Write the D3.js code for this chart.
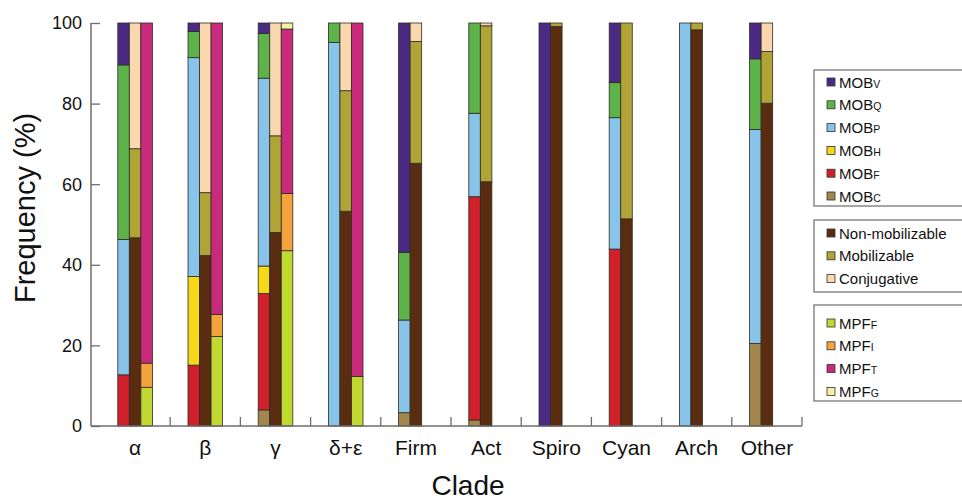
<!DOCTYPE html>
<html>
<head>
<meta charset="utf-8">
<script src="https://cdn.jsdelivr.net/npm/d3@7/dist/d3.min.js"></script>
<style>
  html, body { margin: 0; padding: 0; background: #fff; }
  svg { display: block; font-family: "Liberation Sans", Arial, sans-serif; }
</style>
</head>
<body>
<svg id="chart" width="962" height="502"></svg>
<script>
// Clades on the x axis
const clades = ["α", "β", "γ", "δ+ε", "Firm", "Act", "Spiro", "Cyan", "Arch", "Other"];

// MOB relaxase classes (% of plasmids), stacked bottom to top
const mobC = [0, 0, 4.0, 0, 3.3, 1.5, 0, 0, 0, 20.5];
const mobF = [12.7, 15.1, 28.9, 0, 0, 55.4, 0, 43.9, 0, 0];
const mobH = [0, 22.0, 6.8, 0, 0, 0, 0, 0, 0, 0];
const mobP = [33.6, 54.3, 46.6, 95.2, 23.0, 20.7, 0, 32.6, 100, 53.1];
const mobQ = [43.3, 6.5, 11.1, 4.8, 16.8, 22.4, 0, 8.7, 0, 17.5];
const mobV = [10.4, 2.1, 2.6, 0, 56.9, 0, 100, 14.8, 0, 8.9];

// Mobility classes (%)
const nonMobilizable = [46.7, 42.3, 48.0, 53.3, 65.2, 60.6, 99.1, 51.4, 98.3, 80.1];
const mobilizable = [22.1, 15.6, 24.0, 29.9, 30.2, 38.7, 0.9, 48.6, 1.7, 12.8];
const conjugative = [31.2, 42.1, 28.0, 16.8, 4.6, 0.7, 0, 0, 0, 7.1];

// MPF classes (%), only for the proteobacterial clades
const mpfClades = ["α", "β", "γ", "δ+ε"];
const mpfF = [9.6, 22.2, 43.5, 12.3];
const mpfI = [6.0, 5.5, 14.2, 0];
const mpfT = [84.4, 72.3, 40.8, 87.7];
const mpfG = [0, 0, 1.5, 0];

const yTicks = [0, 20, 40, 60, 80, 100];

// Series definitions: key, legend label (base + small suffix), colour, values
const mobSeries = [
  { key: "MOBC", base: "MOB", sub: "C", color: "#a2864b", values: mobC },
  { key: "MOBF", base: "MOB", sub: "F", color: "#d2202b", values: mobF },
  { key: "MOBH", base: "MOB", sub: "H", color: "#f6d816", values: mobH },
  { key: "MOBP", base: "MOB", sub: "P", color: "#88c4ea", values: mobP },
  { key: "MOBQ", base: "MOB", sub: "Q", color: "#5db34a", values: mobQ },
  { key: "MOBV", base: "MOB", sub: "V", color: "#4b2a84", values: mobV }
];
const mobilitySeries = [
  { key: "non", base: "Non-mobilizable", sub: "", color: "#5a2d10", values: nonMobilizable },
  { key: "mob", base: "Mobilizable", sub: "", color: "#b1a437", values: mobilizable },
  { key: "conj", base: "Conjugative", sub: "", color: "#fbd7ad", values: conjugative }
];
const mpfSeries = [
  { key: "MPFF", base: "MPF", sub: "F", color: "#c0d830", values: mpfF },
  { key: "MPFI", base: "MPF", sub: "I", color: "#f4a23b", values: mpfI },
  { key: "MPFT", base: "MPF", sub: "T", color: "#c92a7b", values: mpfT },
  { key: "MPFG", base: "MPF", sub: "G", color: "#f4f0a4", values: mpfG }
];

const svg = d3.select("#chart");
const plot = { left: 91, right: 802, top: 23, bottom: 426 };

const x = d3.scaleBand().domain(clades).range([100, 802]).paddingInner(0).paddingOuter(0);
const slot = d3.scaleBand().domain([0, 1, 2]).range([-17.3, 17.3]).padding(0);
const y = d3.scaleLinear().domain([0, 100]).range([plot.bottom, plot.top]);

// Stacked bars for one bar slot of each group
function drawStack(series, cats, slotIndex) {
  const rows = cats.map((c, i) => {
    const r = { clade: c };
    series.forEach(s => { r[s.key] = s.values[i]; });
    return r;
  });
  const stack = d3.stack().keys(series.map(s => s.key))(rows);
  const g = svg.append("g");
  stack.forEach((layer, li) => {
    g.selectAll(null)
      .data(layer.filter(d => d[1] - d[0] > 0))
      .enter().append("rect")
      .attr("x", d => x(d.data.clade) + x.bandwidth() / 2 + slot(slotIndex))
      .attr("width", slot.bandwidth())
      .attr("y", d => y(d[1]))
      .attr("height", d => y(d[0]) - y(d[1]))
      .attr("fill", series[li].color)
      .attr("stroke", "#2e2a26")
      .attr("stroke-width", 0.8);
  });
}
drawStack(mobSeries, clades, 0);
drawStack(mobilitySeries, clades, 1);
drawStack(mpfSeries, mpfClades, 2);

// Axes
const axisColor = "#6d6d6d";
const yAxis = d3.axisRight(y).tickValues(yTicks).tickSize(9).tickFormat("");
svg.append("g").attr("transform", `translate(${plot.left},0)`).call(yAxis)
  .call(g => g.select(".domain").remove())
  .call(g => g.selectAll("line").attr("stroke", axisColor).attr("stroke-width", 1.3));
svg.append("line").attr("x1", plot.left).attr("x2", plot.left)
  .attr("y1", plot.top).attr("y2", plot.bottom)
  .attr("stroke", axisColor).attr("stroke-width", 1.5);
svg.append("g").selectAll("text").data(yTicks).enter().append("text")
  .attr("x", 82).attr("y", d => y(d)).attr("dy", "0.35em")
  .attr("text-anchor", "end").attr("font-size", 18).attr("fill", "#111")
  .text(d => d);

svg.append("line").attr("x1", plot.left).attr("x2", plot.right)
  .attr("y1", plot.bottom).attr("y2", plot.bottom)
  .attr("stroke", axisColor).attr("stroke-width", 1.5);
svg.append("g").selectAll("line").data(clades).enter().append("line")
  .attr("x1", d => x(d) + x.bandwidth()).attr("x2", d => x(d) + x.bandwidth())
  .attr("y1", plot.bottom).attr("y2", plot.bottom - 9)
  .attr("stroke", axisColor).attr("stroke-width", 1.3);
svg.append("g").selectAll("text").data(clades).enter().append("text")
  .attr("x", d => x(d) + x.bandwidth() / 2).attr("y", 455)
  .attr("text-anchor", "middle").attr("font-size", 21).attr("fill", "#111")
  .text(d => d);

// Axis titles
svg.append("text").attr("x", 468).attr("y", 495).attr("text-anchor", "middle")
  .attr("font-size", 28).attr("fill", "#111").text("Clade");
svg.append("text").attr("transform", "translate(35,208) rotate(-90)")
  .attr("text-anchor", "middle").attr("font-size", 29).attr("fill", "#111")
  .text("Frequency (%)");

// Legends: three boxed groups
function drawLegend(items, top, bottom, firstRow) {
  svg.append("rect").attr("x", 814).attr("y", top).attr("width", 160).attr("height", bottom - top)
    .attr("fill", "none").attr("stroke", "#777").attr("stroke-width", 1.3);
  items.forEach((s, i) => {
    const cy = firstRow + i * 22.8;
    svg.append("rect").attr("x", 827).attr("y", cy - 4).attr("width", 8).attr("height", 8)
      .attr("fill", s.color).attr("stroke", "#333").attr("stroke-width", 0.8);
    const t = svg.append("text").attr("x", 839).attr("y", cy + 5.5)
      .attr("font-size", 15).attr("fill", "#111");
    t.append("tspan").text(s.base);
    if (s.sub) t.append("tspan").attr("font-size", 10.5).text(s.sub);
  });
}
drawLegend(mobSeries.slice().reverse(), 70, 206, 82);
drawLegend(mobilitySeries, 220, 292, 233);
drawLegend(mpfSeries, 305, 401, 323);
</script>
</body>
</html>
